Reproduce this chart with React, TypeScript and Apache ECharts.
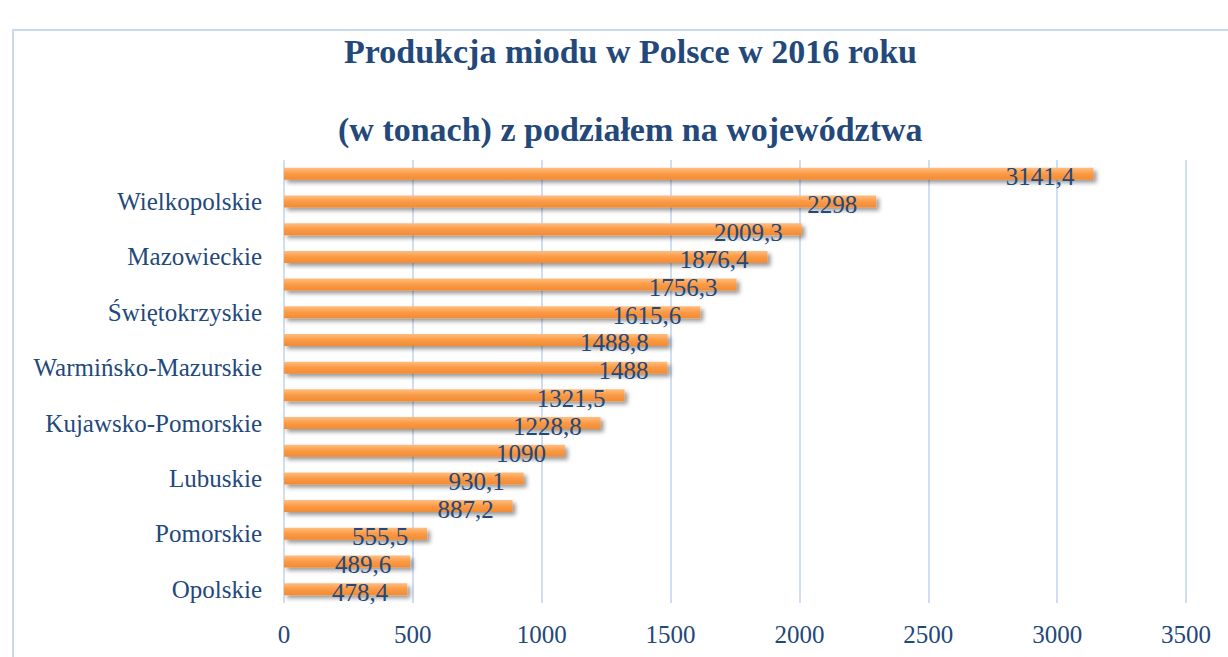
import React, { useEffect, useRef } from "react";
import * as echarts from "echarts";

const categories = [
  "Lubelskie",
  "Wielkopolskie",
  "Podkarpackie",
  "Mazowieckie",
  "Małopolskie",
  "Świętokrzyskie",
  "Łódzkie",
  "Warmińsko-Mazurskie",
  "Dolnośląskie",
  "Kujawsko-Pomorskie",
  "Zachodniopomorskie",
  "Lubuskie",
  "Podlaskie",
  "Pomorskie",
  "Śląskie",
  "Opolskie",
];
const values = [
  3141.4, 2298, 2009.3, 1876.4, 1756.3, 1615.6, 1488.8, 1488, 1321.5, 1228.8,
  1090, 930.1, 887.2, 555.5, 489.6, 478.4,
];
const titleLines = [
  "Produkcja miodu w Polsce w 2016 roku",
  "(w tonach) z podziałem na województwa",
];

const FONT = "'Liberation Serif', 'DejaVu Serif', serif";
const BLUE = "#23487a";

export default function App() {
  const ref = useRef<HTMLDivElement>(null);
  useEffect(() => {
    if (!ref.current) return;
    const chart = echarts.init(ref.current, undefined, { renderer: "svg" });
    chart.setOption({
      animation: false,
      backgroundColor: "#ffffff",
      title: [
        {
          text: titleLines[0],
          left: 339,
          top: 29,
          textStyle: { fontFamily: FONT, fontWeight: "bold", fontSize: 34, color: BLUE },
        },
        {
          text: titleLines[1],
          left: 333,
          top: 107,
          textStyle: { fontFamily: FONT, fontWeight: "bold", fontSize: 34, color: BLUE },
        },
      ],
      graphic: [
        {
          type: "rect",
          shape: { x: 13, y: 30, width: 1400, height: 800 },
          style: { fill: "none", stroke: "#c9daf0", lineWidth: 2 },
          z: -1,
        },
      ],
      grid: { left: 284, right: 42, top: 160, bottom: 54 },
      xAxis: {
        type: "value",
        min: 0,
        max: 3500,
        interval: 500,
        axisLine: { show: false },
        axisTick: { show: false },
        splitLine: { show: true, lineStyle: { color: "#cfdef2", width: 2 } },
        axisLabel: {
          fontFamily: FONT,
          fontSize: 25,
          color: BLUE,
          margin: 19,
          formatter: (v: number) => String(v),
        },
      },
      yAxis: {
        type: "category",
        data: categories,
        inverse: true,
        axisLine: { show: false },
        axisTick: { show: false },
        axisLabel: {
          fontFamily: FONT,
          fontSize: 25,
          color: BLUE,
          margin: 22,
          interval: (index: number) => index % 2 === 1,
        },
      },
      series: [
        {
          type: "bar",
          data: values,
          barWidth: 12,
          itemStyle: {
            color: new echarts.graphic.LinearGradient(0, 0, 0, 1, [
              { offset: 0, color: "#ffbd80" },
              { offset: 0.5, color: "#fb9a45" },
              { offset: 1, color: "#f28b33" },
            ]),
            shadowColor: "rgba(0,0,0,0.4)",
            shadowBlur: 4,
            shadowOffsetX: 3,
            shadowOffsetY: 3,
          },
          label: {
            show: true,
            position: "insideRight",
            distance: 19,
            offset: [0, 3],
            fontFamily: FONT,
            fontSize: 25,
            color: BLUE,
            formatter: (p: any) => String(p.value).replace(".", ","),
          },
        },
      ],
    });
    return () => chart.dispose();
  }, []);
  return (
    <div
      ref={ref}
      style={{ position: "fixed", left: 0, top: 0, width: 1228, height: 657 }}
    />
  );
}
